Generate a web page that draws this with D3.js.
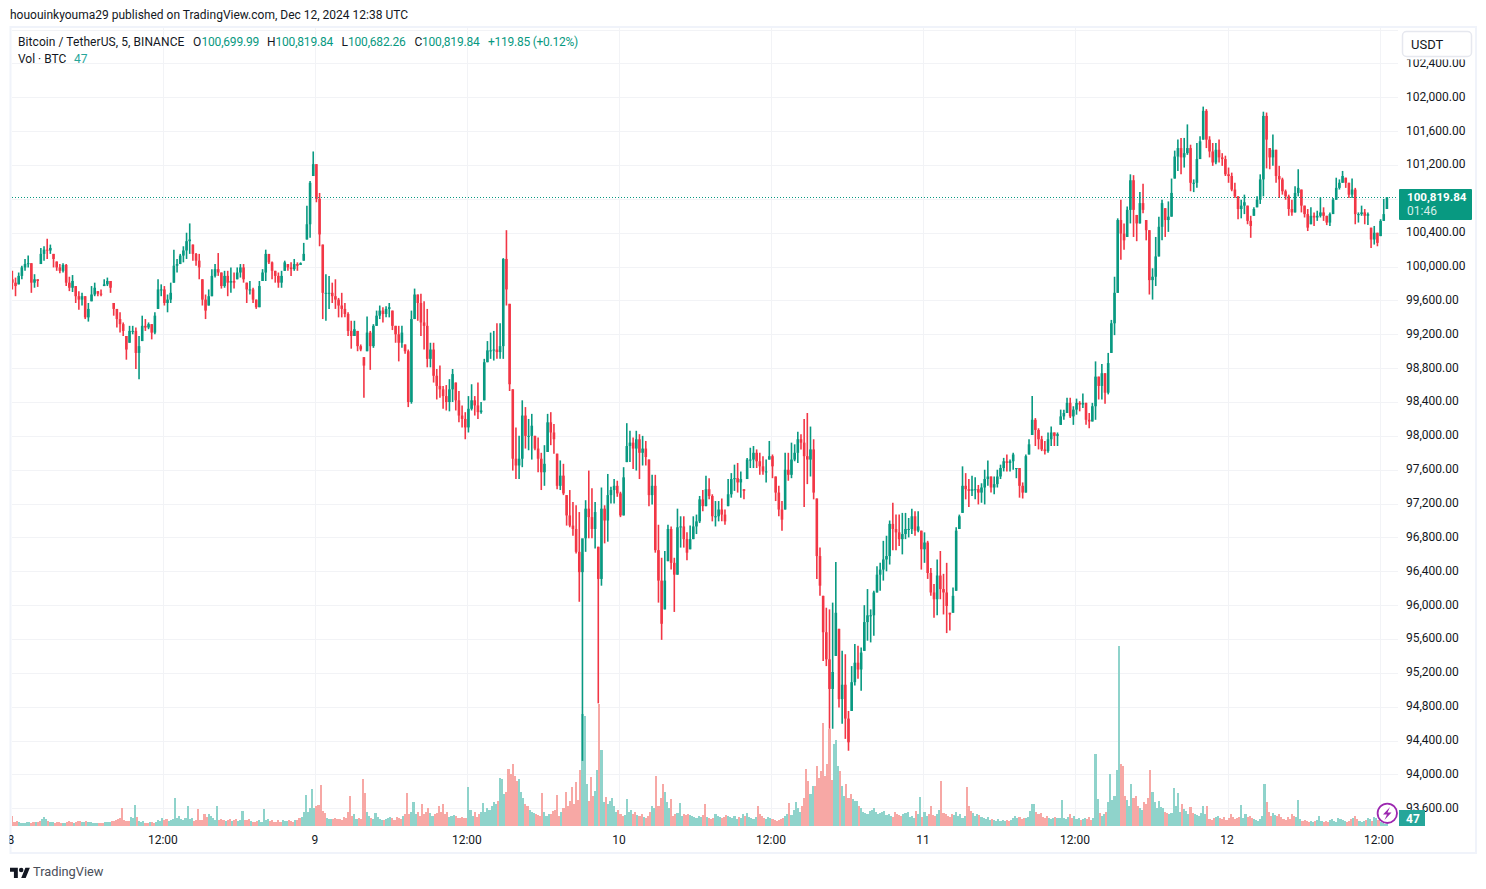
<!DOCTYPE html>
<html><head><meta charset="utf-8">
<script src="https://cdnjs.cloudflare.com/ajax/libs/d3/7.9.0/d3.min.js"></script>
<style>html,body{margin:0;padding:0;background:#fff}svg{display:block}text{font-family:Roboto,"Open Sans",sans-serif}</style>
</head><body><svg id="c" width="1486" height="889"></svg>
<script>
const priceTicks=[102800,102400,102000,101600,101200,100800,100400,100000,99600,99200,98800,98400,98000,97600,97200,96800,96400,96000,95600,95200,94800,94400,94000,93600];
const timeTickBars=[0,144,288,432,576,720,864,1008,1152,1296];
const timeTickLabels=["8","12:00","9","12:00","10","12:00","11","12:00","12","12:00"];
const barsPerCandle=3, barsPerVolume=2;
const highs=[
99950,99870,99930,100010,100090,100130,100040,99910,99850,100220,
100240,100330,100260,100150,100060,100030,100040,100030,99880,99900,
99770,99710,99690,99650,99570,99770,99810,99710,99730,99850,
99870,99830,99570,99500,99460,99340,99180,99300,99300,99280,
99180,99420,99380,99340,99320,99460,99850,99790,99770,99670,
99810,100200,100090,100150,100240,100400,100510,100260,100160,100150,
99850,99670,99730,99970,100030,100160,99930,99950,99950,99990,
99930,99990,100030,100030,99810,99830,99750,99610,99830,99970,
100200,100150,100060,99950,99930,99950,100070,100030,100050,100090,
100050,100050,100280,100720,101010,101360,101210,100870,100260,99910,
99890,99810,99850,99630,99690,99570,99460,99360,99360,99240,
99080,98930,99410,99240,99320,99480,99540,99520,99530,99570,
99480,99300,99300,99300,99080,99020,99480,99740,99670,99680,
99590,99500,99100,99100,98790,98830,98590,98600,98670,98790,
98630,98530,98360,98280,98470,98610,98470,98630,98400,98910,
99120,99220,99240,99330,99330,100100,100430,99560,98550,98100,
98000,98420,98340,98200,98260,98000,97980,97800,97890,98260,
98280,98140,97790,97710,97670,97300,97360,97220,97180,97100,
96610,97240,97590,97380,97220,96690,97390,97180,97550,97400,
97490,97470,97340,97630,98150,98060,97980,98060,98020,98000,
97940,97720,97540,97540,96950,96560,96640,96950,96930,96560,
97140,97050,97050,96860,96940,97050,97070,97290,97360,97530,
97500,97310,97230,97230,97260,97130,97490,97560,97660,97680,
97580,97370,97740,97860,97880,97840,97800,97760,97720,97940,
97780,97520,97410,97230,97800,97800,97920,97900,98050,98020,
98200,98270,98110,97960,97260,96680,96110,95970,95950,96030,
96510,95720,95460,95420,94750,95280,95540,95520,95500,96000,
96190,95950,96170,96460,96500,96760,96820,97000,97210,97070,
97070,97090,97090,97030,97140,97110,97110,96880,96860,96760,
96440,96250,96540,96640,96370,96500,95910,96210,96920,97070,
97640,97560,97490,97530,97510,97420,97440,97600,97710,97520,
97520,97600,97660,97740,97780,97720,97800,97620,97620,97450,
97780,97960,98470,98210,98090,98000,97940,98040,98110,98040,
98040,98310,98310,98450,98450,98350,98440,98410,98500,98390,
98270,98390,98880,98700,98850,98740,98980,99370,99880,100570,
100790,100510,100710,101090,101080,100610,100880,100980,100550,100430,
99980,100350,100590,100790,100690,100770,101040,101370,101500,101520,
101520,101680,101440,101030,101460,101540,101890,101860,101540,101460,
101460,101500,101340,101310,101170,101110,100990,100830,100790,100850,
100720,100600,100700,100830,101090,101830,101820,101400,101560,101380,
101190,101050,100910,100850,100790,100950,101150,100910,100720,100680,
100700,100640,100660,100820,100700,100600,100640,100810,101050,101030,
101130,101050,100990,101040,100930,100640,100720,100680,100640,100460,
100480,100400,100560,100800,100819.84];
const lows=[
99730,99650,99790,99850,99950,99990,99690,99750,99760,100030,
100070,100090,100150,99990,99950,99920,99930,99770,99710,99700,
99570,99490,99540,99380,99350,99590,99650,99650,99650,99770,
99770,99690,99420,99280,99220,99180,98900,99100,99200,98790,
98670,99120,99240,99260,99140,99200,99500,99650,99540,99460,
99570,99810,99930,100030,100050,100090,100150,100070,100010,99850,
99540,99380,99540,99650,99870,99890,99740,99750,99650,99690,
99740,99850,99870,99810,99570,99670,99570,99500,99520,99830,
99830,100030,99850,99810,99750,99750,99950,99950,99890,99950,
99950,100020,100070,100320,100340,101070,100760,100240,99380,99360,
99500,99570,99500,99400,99400,99400,99180,99030,99180,99000,
99000,98450,99000,98780,99040,99300,99380,99340,99400,99400,
99250,99100,98880,99040,98970,98340,98380,99380,99360,99180,
99020,98810,98810,98630,98430,98450,98320,98300,98290,98400,
98300,98160,98100,97960,98040,98300,98240,98200,98260,98420,
98870,98910,98890,98910,98910,98910,99540,98530,97590,97490,
97490,97630,97850,97830,97720,97830,97570,97360,97410,97810,
97890,97790,97370,97360,97300,96940,96920,96820,96610,96040,
94160,96630,96790,96790,96670,94840,96230,96730,96750,97200,
97200,97280,97040,97060,97690,97690,97610,97590,97490,97650,
97650,97170,97190,96620,96030,95590,95950,96520,96420,95920,
96360,96680,96680,96530,96660,96780,96840,96970,97110,97170,
97250,96990,96930,96990,96990,96950,97170,97270,97350,97330,
97270,97250,97490,97620,97620,97620,97540,97540,97450,97720,
97500,97230,97050,96880,97130,97470,97500,97700,97680,97840,
97160,97430,97520,97250,96310,96110,95340,95280,94540,94540,
95400,94790,94600,94420,94280,94750,95050,95130,94990,95460,
95580,95560,95640,96150,96170,96290,96400,96480,96650,96650,
96700,96600,96780,96800,96840,96820,96860,96420,96500,96310,
96110,95850,95880,96070,95890,95670,95700,95910,96170,96900,
97090,97250,97160,97290,97250,97190,97210,97190,97410,97330,
97310,97390,97490,97580,97580,97580,97600,97500,97270,97260,
97330,97780,98010,97880,97840,97820,97780,97800,97880,97880,
97880,98130,98190,98270,98210,98130,98250,98290,98330,98130,
98090,98170,98190,98430,98430,98380,98490,98980,99190,99690,
100080,100200,100350,100510,100350,100300,100510,100630,100310,99670,
99610,99770,100120,100310,100350,100410,100590,101040,101130,101090,
101170,101320,100890,100880,100930,101270,101500,101400,101290,101190,
101210,101230,101190,101070,100990,100890,100810,100560,100570,100620,
100500,100340,100600,100700,100740,100830,101160,101150,101190,100990,
100810,100850,100790,100600,100600,100640,100830,100640,100580,100420,
100500,100480,100540,100580,100540,100490,100480,100620,100790,100910,
100990,100930,100810,100810,100500,100520,100600,100500,100490,100220,
100260,100240,100360,100540,100680];
const closes=[
99810,99770,99890,99990,100030,100040,99810,99850,99830,100150,
100200,100190,100220,100090,99990,99950,100020,99810,99750,99830,
99650,99610,99650,99400,99500,99670,99750,99680,99670,99790,
99830,99750,99500,99380,99320,99240,99020,99240,99240,98980,
99060,99300,99280,99320,99220,99420,99730,99730,99570,99610,
99690,100010,100030,100130,100190,100300,100320,100150,100070,99990,
99610,99480,99650,99890,99970,99930,99770,99890,99810,99830,
99810,99930,99990,99850,99730,99730,99610,99520,99770,99930,
100150,100050,99950,99890,99810,99890,100050,99990,99970,100030,
100010,100040,100150,100500,100990,101210,100800,100380,99690,99690,
99690,99650,99610,99540,99500,99440,99240,99180,99260,99060,
99020,98830,99220,99060,99300,99420,99480,99440,99500,99520,
99300,99200,99100,99220,99000,98400,99380,99670,99570,99340,
99300,98910,99020,98710,98590,98550,98470,98400,98550,98730,
98420,98240,98200,98100,98320,98420,98360,98280,98300,98870,
99010,99010,99020,98990,99060,100090,99730,98610,97730,97650,
97730,98240,98000,98000,98120,97850,97730,97570,97670,98160,
98040,97960,97410,97530,97320,97060,96940,96900,96630,96390,
96790,97140,97040,96900,97100,96310,97140,97000,97300,97360,
97410,97320,97060,97510,97880,97920,97850,97960,97800,97850,
97750,97300,97410,96650,96290,95780,96290,96900,96500,96360,
96920,96930,96780,96620,96780,96930,96990,97250,97170,97370,
97290,97050,97050,97130,97070,96990,97310,97490,97500,97450,
97490,97350,97720,97720,97800,97700,97640,97580,97580,97760,
97640,97330,97130,97010,97600,97540,97720,97800,97960,97920,
97760,97720,97840,97330,96580,96230,95680,95360,95010,95210,
95910,94890,95060,94660,94380,95090,95320,95240,95440,95800,
95880,95880,96150,96360,96420,96540,96580,96960,96900,96860,
96780,96840,96900,96900,97050,96880,96930,96660,96740,96380,
96150,96070,96350,96190,96150,95990,95890,96110,96880,97050,
97410,97370,97350,97370,97370,97330,97390,97490,97520,97390,
97430,97520,97620,97700,97680,97700,97780,97620,97410,97330,
97760,97900,98190,98070,97960,97840,97820,97960,98040,98000,
98020,98230,98270,98390,98230,98310,98390,98370,98390,98190,
98170,98350,98700,98590,98740,98510,98860,99330,99690,100550,
100390,100310,100670,101020,100670,100510,100750,100670,100430,99840,
99880,100120,100470,100750,100550,100590,100870,101300,101400,101290,
101340,101400,100990,100990,101270,101480,101840,101500,101360,101230,
101380,101290,101270,101090,101070,100910,100830,100680,100720,100760,
100540,100480,100680,100790,101030,101780,101500,101290,101380,101070,
101030,100890,100830,100680,100640,100870,100930,100720,100620,100460,
100600,100580,100600,100640,100600,100520,100620,100790,100930,100990,
101070,100990,100850,100910,100620,100620,100640,100600,100620,100320,
100400,100280,100540,100620,100819.84];
const volumes=[
250,100,125,100,75,75,75,100,100,75,100,100,100,125,175,225,175,125,100,100,
75,100,100,75,75,75,100,125,100,75,100,125,125,100,100,125,100,100,75,75,
75,75,75,75,100,100,100,125,125,150,175,200,450,150,125,125,225,200,525,225,
125,100,125,75,75,100,100,75,100,150,125,200,150,175,125,150,175,700,200,250,
175,150,200,500,175,200,125,150,425,150,150,300,225,300,250,200,150,500,150,175,
150,125,150,175,125,150,175,125,150,375,150,150,175,125,100,100,125,150,100,425,
150,175,125,150,100,100,150,100,150,125,125,150,125,100,150,150,200,225,350,775,
350,450,925,450,500,525,1025,375,325,200,175,175,175,200,175,175,150,225,200,350,
750,250,300,175,200,175,1175,825,350,250,200,175,325,225,175,150,150,175,200,225,
200,150,225,200,175,250,300,825,300,350,600,300,350,250,550,300,350,450,325,250,
300,325,500,350,550,300,350,225,250,275,250,200,200,225,200,200,975,400,250,350,
225,300,350,575,350,450,400,500,600,550,625,1200,1175,800,850,1425,1300,1550,1250,1125,
1175,850,700,550,500,400,350,325,300,275,250,825,350,250,300,300,375,400,775,250,
350,450,850,500,625,975,550,1100,650,1400,2800,2750,1050,625,1225,750,875,1400,3050,1900,
600,725,550,625,700,500,350,400,300,250,275,675,350,400,300,350,275,250,300,225,
200,250,350,500,450,1250,500,700,1050,850,600,450,675,250,300,325,575,250,300,275,
300,275,250,225,200,250,225,275,550,225,200,175,200,300,250,225,200,225,275,250,
225,200,250,175,225,200,300,250,325,225,200,175,225,500,300,250,200,175,225,200,
175,150,125,150,175,200,250,300,575,275,400,600,450,350,500,700,1425,1125,800,1000,
1000,1500,1200,1375,2575,1250,1550,2425,1150,2050,2150,1500,1375,1000,750,1050,700,800,675,625,
625,500,450,350,325,300,375,400,450,350,300,325,350,375,275,300,250,225,350,300,
275,250,300,325,350,225,250,200,375,300,725,225,350,250,300,500,275,250,300,400,
1125,325,300,250,225,300,275,350,250,300,200,250,975,500,375,325,250,300,275,225,
200,175,225,150,175,150,125,175,125,150,125,150,125,150,200,250,200,225,175,200,
200,225,375,550,550,350,300,325,225,200,250,200,175,200,225,200,200,650,200,175,
225,300,200,250,175,200,150,175,200,175,225,150,200,1800,675,325,250,300,350,600,
1300,650,750,1400,4500,1550,1500,750,650,500,1050,700,750,500,450,400,600,550,700,1400,
850,600,450,625,475,450,350,325,300,325,950,500,825,350,550,425,375,300,475,325,
300,275,250,325,500,300,500,175,150,200,225,250,200,175,225,150,200,300,225,175,
200,225,525,200,300,225,250,200,175,150,125,175,250,1050,600,350,250,325,275,250,
300,225,175,150,225,175,300,250,225,650,175,125,150,125,100,125,100,125,150,250,
125,100,125,100,150,175,125,100,200,175,150,125,100,125,175,200,250,175,125,100,
125,150,200,175,125,225,200,150,100,75,50,47];
const lastClose=100819.84, lastVolume=47;
const headerText="hououinkyouma29 published on TradingView.com, Dec 12, 2024 12:38 UTC";

const UP="#089981",DOWN="#F23645",UPV="#8fd3cb",DOWNV="#f7a8a5",GRID="#f2f3f6",FRAME="#f0f3fa",TXT="#131722";
const svg=d3.select("#c");
const x=d3.scaleLinear().domain([0,1152]).range([11.3,1227.5]);
const y=d3.scaleLinear().domain([93600,102000]).range([808.3,97.3]);
const v=d3.scaleLinear().domain([0,4500]).range([825.7,645.7]);
const plotR=1398, plotB=826;
const defs=svg.append("defs");
defs.append("clipPath").attr("id","plot").append("rect").attr("x",12).attr("y",28).attr("width",plotR-12).attr("height",plotB-28);
defs.append("clipPath").attr("id","tl2").append("rect").attr("x",10.5).attr("y",-5).attr("width",1400).attr("height",22);

svg.append("rect").attr("x",10.5).attr("y",27).attr("width",1465.5).attr("height",826).attr("fill","#fff").attr("stroke",FRAME).attr("stroke-width",2);

// grid
const gridG=svg.append("g").attr("clip-path","url(#plot)");
gridG.selectAll(".h").data(priceTicks).join("line").attr("x1",12).attr("x2",plotR)
 .attr("y1",d=>Math.round(y(d))+.5).attr("y2",d=>Math.round(y(d))+.5).attr("stroke",GRID);
gridG.selectAll(".v").data(timeTickBars.slice(1)).join("line").attr("y1",28).attr("y2",plotB)
 .attr("x1",d=>Math.round(x(d))+.5).attr("x2",d=>Math.round(x(d))+.5).attr("stroke",GRID);

// candles
const candles=closes.map((c,i)=>{
  const prev=i?closes[i-1]:c+40;
  const o=Math.min(highs[i],Math.max(lows[i],prev));
  return {i,o,h:highs[i],l:lows[i],c,up:c>=o};
});
const cx=d=>x(d.i*barsPerCandle+1);
const plot=svg.append("g").attr("clip-path","url(#plot)");
const vol=plot.append("g").attr("shape-rendering","crispEdges");
vol.selectAll("rect").data(volumes).join("rect")
 .attr("x",(d,j)=>Math.round(x(j*barsPerVolume)))
 .attr("width",(d,j)=>Math.max(1,Math.round(x((j+1)*barsPerVolume))-Math.round(x(j*barsPerVolume))))
 .attr("y",d=>v(d)).attr("height",d=>v(0)-v(d))
 .attr("fill",(d,j)=>candles[Math.min(candles.length-1,Math.floor(j*barsPerVolume/barsPerCandle))].up?UPV:DOWNV);

const cg=plot.append("g");
cg.selectAll(".w").data(candles).join("line")
 .attr("x1",d=>cx(d)).attr("x2",d=>cx(d))
 .attr("y1",d=>y(d.h)).attr("y2",d=>y(d.l)).attr("stroke",d=>d.up?UP:DOWN).attr("stroke-width",1.6);
cg.selectAll(".b").data(candles).join("rect")
 .attr("x",d=>cx(d)-1.3).attr("width",2.6)
 .attr("y",d=>y(Math.max(d.o,d.c))).attr("height",d=>Math.max(1,Math.abs(y(d.o)-y(d.c))))
 .attr("fill",d=>d.up?UP:DOWN);

// last price line
svg.append("line").attr("x1",12).attr("x2",plotR).attr("y1",Math.round(y(lastClose))+.5).attr("y2",Math.round(y(lastClose))+.5)
 .attr("stroke",UP).attr("stroke-width",1).attr("stroke-dasharray","1 2");

// axes
const ya=svg.append("g").attr("transform",`translate(1399,-1)`)
 .call(d3.axisRight(y).tickValues(priceTicks.slice(1)).tickFormat(d3.format(",.2f")).tickSize(0).tickPadding(7));
ya.select(".domain").remove();
ya.selectAll("text").attr("fill",TXT).style("font-size","12px").style("font-family","Roboto");
const xa=svg.append("g").attr("transform",`translate(-1,833)`).attr("clip-path","url(#tl2)")
 .call(d3.axisBottom(x).tickValues(timeTickBars).tickFormat((d,i)=>timeTickLabels[i]).tickSize(0).tickPadding(2));
xa.select(".domain").remove();
xa.selectAll("text").attr("fill",TXT).style("font-size","12px").style("font-family","Roboto");

// currency box with its white backing, which cuts the top of the first price label
svg.append("rect").attr("x",1399).attr("y",28).attr("width",76).attr("height",31.5).attr("fill","#fff");
svg.append("rect").attr("x",1402.5).attr("y",31.5).attr("width",69).attr("height",25).attr("rx",4).attr("fill","#fff").attr("stroke","#e6e8ef").attr("stroke-width",1.5);
svg.append("text").attr("x",1411).attr("y",48.5).attr("fill",TXT).style("font-size","13px").text("USDT");

// last price tag
svg.append("rect").attr("x",1399).attr("y",189).attr("width",73).attr("height",31).attr("rx",1).attr("fill",UP);
svg.append("text").attr("x",1407).attr("y",201).attr("fill","#fff").style("font-size","11.6px").style("font-weight",700).text(d3.format(",.2f")(lastClose));
svg.append("text").attr("x",1407).attr("y",215).attr("fill","#d6efe9").style("font-size","12px").text("01:46");

// volume tag
svg.append("rect").attr("x",1399).attr("y",810).attr("width",26).attr("height",16).attr("fill","#26a69a");
svg.append("text").attr("x",1413).attr("y",822.5).attr("text-anchor","middle").attr("fill","#fff").style("font-size","12px").style("font-weight",700).text(lastVolume);

// bolt
svg.append("circle").attr("cx",1387.3).attr("cy",813.3).attr("r",9.7).attr("fill","#fff").attr("stroke","#9c27b0").attr("stroke-width",1.8);
svg.append("path").attr("d","M1390 807 L1383 814.5 L1387 814.5 L1384.5 820 L1391.5 812.5 L1387.5 812.5 Z").attr("fill","#9c27b0");

// header + legend
svg.append("text").attr("x",10).attr("y",18.5).attr("fill",TXT).style("font-size","12px").text(headerText);
const leg=[[18,"Bitcoin / TetherUS, 5, BINANCE",TXT,.07],[193,"O",TXT,0],[201.5,"100,699.99",UP,-.2],[267,"H",TXT,0],[275.5,"100,819.84",UP,-.2],[341.5,"L",TXT,0],[348,"100,682.26",UP,-.2],[414.5,"C",TXT,0],[422,"100,819.84",UP,-.2],[488,"+119.85 (+0.12%)",UP,-.25]];
svg.append("g").selectAll("text").data(leg).join("text").attr("x",d=>d[0]).attr("y",46).attr("fill",d=>d[2]).style("letter-spacing",d=>d[3]+"px").style("font-size","12px").text(d=>d[1]);
svg.append("text").attr("x",18).attr("y",63).attr("fill",TXT).style("font-size","12px").text("Vol · BTC");
svg.append("text").attr("x",74).attr("y",63).attr("fill","#26a69a").style("font-size","12px").text(lastVolume);

// logo
svg.append("path").attr("transform","translate(10,865.6) scale(0.56)")
 .attr("d","M14 22H7V11H0V4h14v18zM28 22h-8l7.5-18h8L28 22z").attr("fill",TXT);
svg.append("circle").attr("cx",10+20*.56).attr("cy",865.6+8*.56).attr("r",4*.56).attr("fill",TXT);
svg.append("text").attr("x",33).attr("y",876).attr("fill","#4a4e59").style("font-size","12.8px").text("TradingView");
</script></body></html>
